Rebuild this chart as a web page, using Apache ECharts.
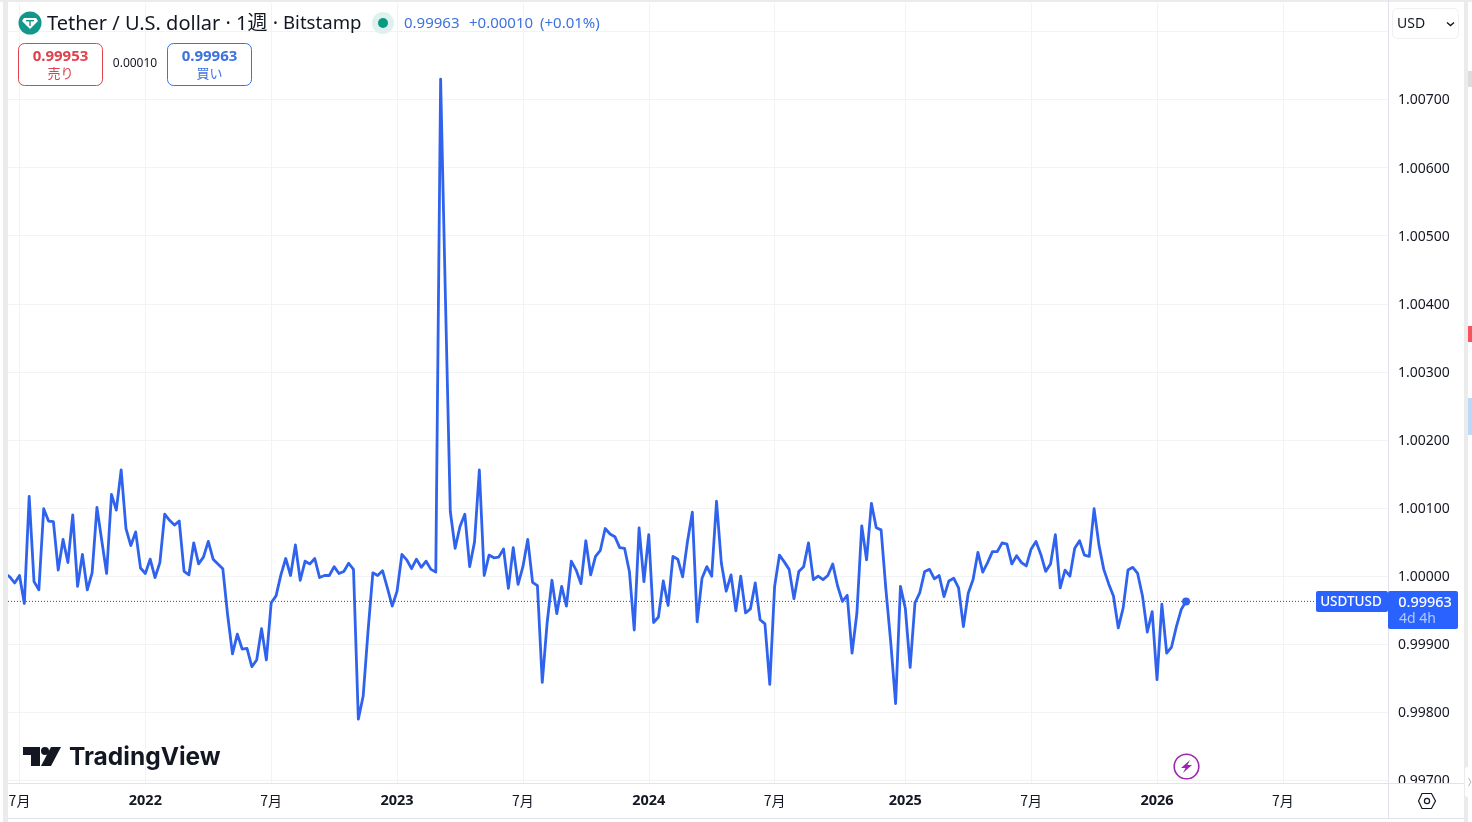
<!DOCTYPE html>
<html>
<head>
<meta charset="utf-8">
<title>USDTUSD</title>
<script src="https://cdn.jsdelivr.net/npm/echarts@6/dist/echarts.min.js"></script>
<style>
html, body { margin: 0; padding: 0; background: #fff; overflow: hidden; }
#chart { width: 1472px; height: 822px; }
</style>
</head>
<body>
<div id="chart"></div>
<script>
// 週足 USDTUSD (終値)
const firstWeek = '2021-06-14';
const closes = [
    1.00004, 0.99999, 0.99990, 1.00001, 0.99960, 1.00117, 0.99992, 0.99980, 1.00099, 1.00081,
    1.00080, 1.00009, 1.00054, 1.00020, 1.00090, 0.99985, 1.00032, 0.99980, 1.00005, 1.00101,
    1.00052, 1.00004, 1.00120, 1.00097, 1.00156, 1.00070, 1.00045, 1.00065, 1.00012, 1.00004,
    1.00025, 0.99998, 1.00020, 1.00091, 1.00082, 1.00075, 1.00081, 1.00007, 1.00002, 1.00049,
    1.00018, 1.00028, 1.00051, 1.00025, 1.00018, 1.00011, 0.99943, 0.99886, 0.99915, 0.99893,
    0.99894, 0.99867, 0.99877, 0.99923, 0.99877, 0.99961, 0.99971, 1.00002, 1.00026, 1.00001,
    1.00046, 0.99994, 1.00022, 1.00018, 1.00026, 0.99998, 1.00001, 1.00001, 1.00014, 1.00004,
    1.00007, 1.00019, 1.00010, 0.99790, 0.99824, 0.99919, 1.00005, 1.00001, 1.00008, 0.99983,
    0.99956, 0.99978, 1.00032, 1.00024, 1.00011, 1.00025, 1.00013, 1.00022, 1.00010, 1.00006,
    1.00730, 1.00406, 1.00095, 1.00041, 1.00073, 1.00091, 1.00014, 1.00050, 1.00156, 1.00001,
    1.00031, 1.00027, 1.00028, 1.00040, 0.99982, 1.00042, 0.99988, 1.00014, 1.00054, 0.99991,
    0.99986, 0.99844, 0.99931, 0.99994, 0.99945, 0.99985, 0.99956, 1.00022, 1.00009, 0.99989,
    1.00052, 1.00002, 1.00029, 1.00038, 1.00070, 1.00062, 1.00058, 1.00042, 1.00041, 1.00007,
    0.99921, 1.00071, 0.99992, 1.00061, 0.99932, 0.99940, 0.99993, 0.99957, 1.00029, 1.00025,
    0.99999, 1.00051, 1.00094, 0.99933, 0.99997, 1.00014, 1.00000, 1.00110, 1.00019, 0.99978,
    1.00002, 0.99949, 1.00000, 0.99946, 0.99952, 0.99990, 0.99936, 0.99930, 0.99841, 0.99985,
    1.00031, 1.00021, 1.00010, 0.99967, 1.00007, 1.00014, 1.00049, 0.99995, 1.00000, 0.99995,
    1.00001, 1.00018, 0.99986, 0.99963, 0.99972, 0.99887, 0.99946, 1.00074, 1.00024, 1.00107,
    1.00071, 1.00068, 0.99980, 0.99902, 0.99813, 0.99985, 0.99953, 0.99866, 0.99961, 0.99976,
    1.00007, 1.00010, 0.99996, 1.00001, 0.99970, 0.99993, 0.99997, 0.99983, 0.99926, 0.99975,
    0.99995, 1.00035, 1.00006, 1.00020, 1.00036, 1.00036, 1.00049, 1.00047, 1.00018, 1.00030,
    1.00020, 1.00015, 1.00040, 1.00051, 1.00032, 1.00007, 1.00018, 1.00061, 0.99983, 1.00009,
    1.00000, 1.00041, 1.00052, 1.00031, 1.00029, 1.00099, 1.00046, 1.00010, 0.99989, 0.99971,
    0.99924, 0.99953, 1.00009, 1.00013, 1.00004, 0.99971, 0.99918, 0.99948, 0.99848, 0.99959,
    0.99887, 0.99896, 0.99926, 0.99951, 0.99963
];
const timeTicks = ['2021-07-05', '2022-01-03', '2022-07-04', '2023-01-02', '2023-07-03', '2024-01-01', '2024-07-01', '2025-01-06', '2025-07-07', '2026-01-05', '2026-07-06'];
const timeLabels = ['7月', '2022', '7月', '2023', '7月', '2024', '7月', '2025', '7月', '2026', '7月'];
const priceTicks = [0.997, 0.998, 0.999, 1.000, 1.001, 1.002, 1.003, 1.004, 1.005, 1.006, 1.007, 1.008];
const priceLabelTicks = [0.997, 0.998, 0.999, 1.000, 1.001, 1.002, 1.003, 1.004, 1.005, 1.006, 1.007];
const lastPrice = 0.99963;

const WEEK = 7 * 24 * 3600 * 1000;
const t0 = new Date(firstWeek + 'T00:00:00Z').getTime();
const xMin = t0 + 0.624 * WEEK;
const xMax = t0 + 285.72 * WEEK;
const tickTimes = timeTicks.map(function (d) { return new Date(d + 'T00:00:00Z').getTime(); });
const points = closes.map(function (v, i) { return [t0 + i * WEEK, v]; });

const FONT = '"Noto Sans", "Noto Sans CJK JP", sans-serif';
const JP = '"Noto Sans CJK JP", "Noto Sans", sans-serif';
const BLUE = '#2962ff';
const LINE = '#2f63ee';
const GRID = '#f2f3f5';
const BORDER = '#e0e3eb';

function txt(x, y, text, size, color, extra) {
    return {
        type: 'text', x: x, y: y, z: 100, silent: true,
        style: Object.assign({ text: text, fontSize: size, fill: color, fontFamily: FONT, textVerticalAlign: 'middle' }, extra || {})
    };
}
function box(x, y, w, h, fill, r, stroke) {
    return {
        type: 'rect', z: 90, silent: true,
        shape: { x: x, y: y, width: w, height: h, r: r || 0 },
        style: { fill: fill, stroke: stroke || null, lineWidth: stroke ? 1 : 0 }
    };
}

const overlay = [
    // 枠
    box(3, 0, 5, 822, '#ebebeb'),
    box(0, 0, 1472, 2, '#ebebeb'),
    box(1464, 0, 4, 822, '#ebebeb'),
    box(1468, 71, 4, 16, '#dddddd'),
    box(1468, 326, 4, 16, '#f7525f'),
    box(1468, 398, 4, 37, '#bbd9fb'),
    // 下の時間軸の下端と価格軸
    box(1389, 784, 75, 34, '#ffffff'),
    box(8, 818, 1456, 4, '#ffffff'),
    box(8, 818, 1456, 1, BORDER),
    box(1388, 0, 1, 818, BORDER),
    box(8, 783, 1456, 1, BORDER),

    // ヘッダー
    { type: 'circle', z: 90, silent: true, shape: { cx: 30, cy: 23, r: 11.5 }, style: { fill: '#12978c' } },
    { type: 'polygon', z: 91, silent: true, shape: { points: [[24, 18], [36, 18], [38, 21], [30, 29], [22, 21]] }, style: { fill: '#ffffff' } },
    { type: 'rect', z: 92, silent: true, shape: { x: 26, y: 20, width: 8, height: 1.4 }, style: { fill: '#12978c' } },
    { type: 'rect', z: 92, silent: true, shape: { x: 29.3, y: 20, width: 1.4, height: 6 }, style: { fill: '#12978c' } },
    txt(47, 24, 'Tether / U.S. dollar · 1週 ·', 20, '#131722', { fontFamily: FONT }),
    txt(283, 24, 'Bitstamp', 18.6, '#131722', { fontFamily: FONT }),
    { type: 'circle', z: 90, silent: true, shape: { cx: 383, cy: 23, r: 11 }, style: { fill: '#dff1ee' } },
    { type: 'circle', z: 91, silent: true, shape: { cx: 383, cy: 23, r: 5 }, style: { fill: '#089981' } },
    txt(404, 23.5, '0.99963', 15, '#3d72e0'),
    txt(469, 23.5, '+0.00010', 15, '#3d72e0'),
    txt(540, 23.5, '(+0.01%)', 15, '#3d72e0'),

    box(18.5, 43.5, 84, 42, '#ffffff', 6, '#e0434f'),
    txt(60.5, 56.5, '0.99953', 15, '#e0434f', { textAlign: 'center', fontWeight: 'bold' }),
    txt(60.5, 73, '売り', 13, '#e0434f', { textAlign: 'center', fontFamily: JP }),
    txt(135, 64, '0.00010', 12, '#131722', { textAlign: 'center' }),
    box(167.5, 43.5, 84, 42, '#ffffff', 6, '#3d72e0'),
    txt(209.5, 56.5, '0.99963', 15, '#3d72e0', { textAlign: 'center', fontWeight: 'bold' }),
    txt(209.5, 73, '買い', 13, '#3d72e0', { textAlign: 'center', fontFamily: JP }),

    // 通貨ボタン
    box(1392.5, 8.5, 66, 30, '#ffffff', 5, '#eef0f3'),
    txt(1397, 24, 'USD', 14, '#131722'),
    { type: 'polyline', z: 100, silent: true, shape: { points: [[1447, 22.5], [1450.5, 25.5], [1454, 22.5]] }, style: { stroke: '#131722', lineWidth: 1.4, fill: null } },

    // 価格タグ
    box(1316, 591, 72, 21, BLUE, 2),
    txt(1351, 602.5, 'USDTUSD', 13.5, '#ffffff', { textAlign: 'center', fontWeight: 500 }),
    box(1388, 591, 70, 38, BLUE, 2),
    txt(1425, 602.5, '0.99963', 14.5, '#ffffff', { textAlign: 'center', fontWeight: 500 }),
    txt(1399, 619.5, '4d 4h', 14, '#b4caff'),

    // ロゴ
    { type: 'polygon', z: 90, silent: true, shape: { points: [[23, 747], [40, 747], [40, 766], [31, 766], [31, 755], [23, 755]] }, style: { fill: '#131722' } },
    { type: 'circle', z: 90, silent: true, shape: { cx: 45, cy: 751, r: 4 }, style: { fill: '#131722' } },
    { type: 'polygon', z: 90, silent: true, shape: { points: [[51, 747], [61, 747], [51, 766], [41, 766]] }, style: { fill: '#131722' } },
    txt(69, 757.5, 'TradingView', 24.5, '#131722', { fontFamily: 'Inter, "Noto Sans", sans-serif', fontWeight: 700 }),

    // 稲妻マーク
    { type: 'circle', z: 90, silent: true, shape: { cx: 1186.5, cy: 766.5, r: 12.3 }, style: { fill: '#ffffff', stroke: '#9c27b0', lineWidth: 1.6 } },
    { type: 'polygon', z: 91, silent: true, shape: { points: [[1190, 760], [1181, 768], [1185.5, 768], [1183, 773], [1192, 765], [1187.5, 765]] }, style: { fill: '#9c27b0' } },

    // 設定アイコン
    { type: 'polygon', z: 100, silent: true, shape: { points: [[1422, 793.5], [1431.5, 793.5], [1435.5, 801], [1431.5, 808.5], [1422, 808.5], [1418.5, 801]] }, style: { fill: '#ffffff', stroke: '#131722', lineWidth: 1.2 } },
    { type: 'circle', z: 101, silent: true, shape: { cx: 1427, cy: 801, r: 2.6 }, style: { fill: '#ffffff', stroke: '#131722', lineWidth: 1.2 } },
    { type: 'rect', z: 90, silent: true, shape: { x: 1465, y: 767, width: 7, height: 30, r: 3 }, style: { fill: '#ffffff' } },
    { type: 'polyline', z: 100, silent: true, shape: { points: [[1468.5, 778], [1471, 782], [1468.5, 786]] }, style: { stroke: '#b2b5be', lineWidth: 1, fill: null } }
];

const myChart = echarts.init(document.getElementById('chart'));

const option = {
    animation: false,
    backgroundColor: '#ffffff',
    grid: { left: 8, right: 84, top: 3, bottom: 39 },
    xAxis: {
        type: 'value',
        min: xMin,
        max: xMax,
        axisLine: { show: false },
        axisTick: { show: false, customValues: tickTimes },
        splitLine: { show: true, lineStyle: { color: GRID, width: 1 } },
        axisLabel: {
            customValues: tickTimes,
            margin: 11,
            hideOverlap: false,
            showMinLabel: true,
            showMaxLabel: true,
            fontFamily: JP,
            fontSize: 14,
            color: '#131722',
            formatter: function (val) {
                let s = timeLabels[tickTimes.indexOf(val)];
                return s === '7月' ? s : '{y|' + s + '}';
            },
            rich: { y: { fontFamily: FONT, fontSize: 14.5, fontWeight: 'bold', color: '#131722' } }
        }
    },
    yAxis: {
        type: 'value',
        position: 'right',
        min: 0.996963,
        max: 1.008417,
        axisLine: { show: false },
        axisTick: { show: false, customValues: priceTicks },
        splitLine: { show: true, lineStyle: { color: GRID, width: 1 } },
        axisLabel: {
            customValues: priceLabelTicks,
            margin: 10,
            formatter: function (val) { return '{p|' + val.toFixed(5) + '}'; },
            rich: { p: { fontFamily: FONT, fontSize: 14, color: '#131722', verticalAlign: 'bottom', lineHeight: 16 } }
        }
    },
    series: [{
        // 現在値の点線
        type: 'line',
        data: [[xMin, lastPrice], [xMax, lastPrice]],
        symbol: 'none',
        silent: true,
        lineStyle: { color: '#3f4a72', type: [1, 2], width: 1 }
    }, {
        type: 'line',
        data: points,
        showSymbol: false,
        symbol: 'none',
        clip: true,
        lineStyle: { color: LINE, width: 2.8, join: 'round' },
        markPoint: {
            silent: true,
            symbol: 'circle',
            symbolSize: 8,
            itemStyle: { color: LINE },
            label: { show: false },
            data: [{ coord: points[points.length - 1] }]
        }
    }],
    graphic: overlay
};

myChart.setOption(option);
</script>
</body>
</html>
